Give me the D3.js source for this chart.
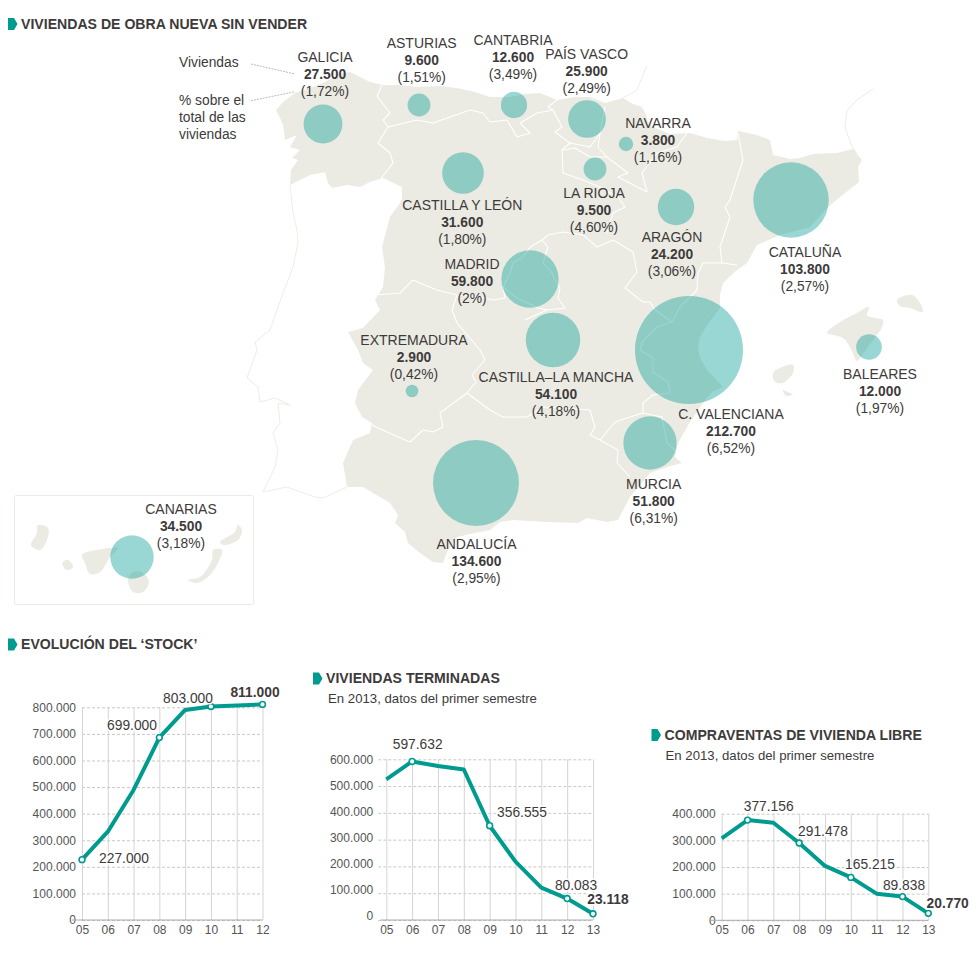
<!DOCTYPE html>
<html>
<head>
<meta charset="utf-8">
<script src="https://cdn.jsdelivr.net/npm/d3@7"></script>
<style>
  body { margin: 0; background: #fff; }
  text { font-family: "Liberation Sans", Arial, sans-serif; fill: #3e3a3b; }
  .tick text { fill: #555; font-size: 12px; }
</style>
</head>
<body>
<svg id="chart" width="980" height="958"></svg>
<script>
// values
const regionNames = ['GALICIA', 'ASTURIAS', 'CANTABRIA', 'PAÍS VASCO', 'NAVARRA', 'LA RIOJA', 'CASTILLA Y LEÓN', 'ARAGÓN', 'CATALUÑA', 'MADRID', 'EXTREMADURA', 'CASTILLA–LA MANCHA', 'C. VALENCIANA', 'BALEARES', 'MURCIA', 'ANDALUCÍA', 'CANARIAS'];
const regionHomes = [27500, 9600, 12600, 25900, 3800, 9500, 31600, 24200, 103800, 59800, 2900, 54100, 212700, 12000, 51800, 134600, 34500];
const regionShares = ['1,72%', '1,51%', '3,49%', '2,49%', '1,16%', '4,60%', '1,80%', '3,06%', '2,57%', '2%', '0,42%', '4,18%', '6,52%', '1,97%', '6,31%', '2,95%', '3,18%'];

const years8 = ['05', '06', '07', '08', '09', '10', '11', '12'];
const years9 = ['05', '06', '07', '08', '09', '10', '11', '12', '13'];

// line heights; where the drawn point sits off its printed label the drawn one is kept
const stockValues = [227000, 332000, 489000, 686000, 790000, 803000, 807000, 811000];
const stockMarked = ['05', '08', '10', '12'];
const stockTicks = [0, 100000, 200000, 300000, 400000, 500000, 600000, 700000, 800000];
const stockLabels = ['227.000', '699.000', '803.000', '811.000'];

const builtValues = [525000, 592000, 575000, 562000, 352000, 218000, 121000, 80083, 23118];
const builtMarked = ['06', '09', '12', '13'];
const builtTicks = [0, 100000, 200000, 300000, 400000, 500000, 600000];
const builtLabels = ['597.632', '356.555', '80.083', '23.118'];

const salesValues = [307000, 376000, 366000, 290000, 204000, 161000, 100000, 89000, 26000];
const salesMarked = ['06', '08', '10', '12', '13'];
const salesTicks = [0, 100000, 200000, 300000, 400000];
const salesLabels = ['377.156', '291.478', '165.215', '89.838', '20.770'];

// basemap, traced in page pixels
const mainland = [[295,93],[310,88],[325,82],[340,74],[350,72],[358,76],[370,82],[383,85],[400,85],[417,87],[440,86],[457,88],[475,92],[490,97],[510,97],[525,94],[540,93],[557,100],[575,97],[590,97],[605,103],[623,98],[633,104],[642,107],[646,115],[648,123],[655,128],[670,134],[690,133],[707,138],[725,141],[737,140],[738,131],[757,135],[770,140],[773,155],[790,159],[800,158],[813,154],[837,153],[853,149],[862,160],[858,167],[859,182],[840,197],[827,208],[810,227],[780,235],[757,245],[747,263],[737,270],[723,283],[720,295],[720,308],[707,325],[700,337],[698,347],[700,358],[707,370],[723,387],[712,392],[703,403],[690,422],[678,443],[675,457],[682,463],[667,467],[650,473],[630,497],[618,520],[607,522],[587,518],[578,523],[547,522],[513,520],[500,522],[490,530],[475,533],[457,537],[447,552],[443,563],[433,562],[420,553],[408,543],[405,532],[395,523],[398,515],[390,503],[380,497],[363,487],[347,487],[343,463],[353,440],[370,433],[372,423],[362,417],[355,403],[358,390],[373,370],[363,363],[358,350],[348,332],[363,328],[380,310],[375,300],[383,287],[385,267],[382,247],[390,217],[402,200],[402,187],[383,178],[370,182],[360,187],[347,185],[332,188],[328,183],[325,172],[310,175],[290,185],[291,170],[298,160],[292,158],[300,150],[290,147],[297,135],[285,140],[283,125],[280,118],[276,110],[283,102]];
const islands = [
  [[827,333],[840,322],[857,313],[869,307],[867,315],[875,318],[883,320],[882,327],[877,335],[867,348],[860,358],[857,361],[850,347],[843,338],[833,335]],
  [[897,300],[912,295],[920,303],[923,312],[910,308],[900,306]],
  [[773,373],[782,367],[793,365],[793,373],[787,380],[783,383],[775,382]],
  [[783,390],[790,393],[793,394],[786,396]],
  // Canarias
  [[38,525],[48,528],[47,540],[40,550],[31,545],[37,533]],
  [[62,563],[68,560],[73,567],[67,570]],
  [[82,555],[110,548],[118,548],[110,557],[100,572],[90,574],[85,563]],
  [[128,580],[133,572],[143,573],[149,582],[143,592],[133,592]],
  [[188,580],[200,577],[212,560],[213,550],[222,550],[218,563],[208,577],[197,583]],
  [[220,542],[235,532],[238,525],[242,530],[238,540],[223,545]]
];
const regionBorders = [
  // Galicia / Asturias / Castilla y León
  [[382,85],[377,96],[390,113],[383,120],[388,127],[378,143],[390,153],[393,163],[380,180],[383,185]],
  [[388,127],[417,120],[433,123],[470,110],[483,113],[490,122],[507,120],[517,137],[530,133],[520,123],[537,113],[553,110],[548,107],[557,100]],
  // País Vasco, La Rioja, Navarra
  [[553,110],[562,127],[555,132],[570,143],[590,147],[600,133],[605,107]],
  [[562,150],[575,148],[590,157],[607,157],[628,173],[618,177],[647,192],[642,173],[657,153],[677,147],[687,133]],
  [[570,143],[562,150],[563,173],[583,180],[600,187],[618,197],[625,207],[613,213],[607,233]],
  [[600,133],[598,147],[607,157]],
  // Castilla y León sur, Aragón
  [[530,247],[542,240],[548,235],[563,232],[583,235],[597,247],[613,240],[633,252],[637,272],[625,288],[643,302],[650,302],[655,310]],
  [[373,295],[400,293],[413,280],[437,290],[457,295],[480,297],[493,300],[505,298],[503,287],[510,273],[513,263],[523,257],[530,247]],
  // Madrid
  [[542,240],[548,247],[543,263],[552,273],[555,280],[560,288],[558,298],[565,308],[547,310],[525,320]],
  [[503,287],[517,298],[538,308],[547,310]],
  // Extremadura, Castilla-La Mancha, Andalucía
  [[457,295],[452,310],[457,323],[480,350],[485,360],[472,375],[476,382],[467,393]],
  [[372,425],[387,432],[410,442],[423,430],[433,432],[443,427],[440,413],[467,393],[490,410],[503,417],[527,417],[543,407],[590,410],[595,427],[590,435],[600,440],[618,450],[617,463],[630,477]],
  // Murcia, C. Valenciana
  [[600,440],[615,422],[630,417],[643,413],[643,403],[653,395],[670,393],[668,382],[653,372],[653,358],[640,350],[642,342],[657,327],[672,322],[680,307],[687,300],[697,290],[698,273],[703,263],[722,263],[737,265]],
  [[643,413],[662,417],[667,443],[675,450]],
  [[655,310],[672,322]],
  // Aragón / Cataluña
  [[738,133],[743,160],[730,200],[725,207],[730,217],[720,247],[722,263]],
  // Andorra
  [[773,143],[788,145],[788,152],[775,155]]
];
const neighbourLines = [
  // Portugal
  [[290,185],[293,213],[297,230],[298,243],[293,267],[287,283],[283,293],[277,310],[270,330],[255,342],[257,350],[247,378],[258,387],[260,402],[275,398],[290,405],[278,403],[280,423],[273,433],[278,450],[275,467],[263,492],[287,487],[315,497],[323,498],[347,487]],
  // Francia
  [[623,98],[637,90],[647,65]],
  [[873,89],[857,100],[847,110],[845,127],[852,147],[857,153]]
];

// where things sit on the page
const bubbleCentres = [[323,124],[419,105],[514,105],[587,119],[626,144],[595,169],[463,173],[676,207],[791,200],[530,279],[412,391],[553,340],[689,350],[869,347],[650,443],[476,483],[132,557]];
const labelAnchors = [[325,57],[421.7,43],[513,40],[586.7,54],[658,123],[594,192.7],[462.3,205],[672,237],[805,251.7],[472,264],[414,339.7],[556,377],[731,414],[880,373.7],[653.7,484],[476.5,544],[181,508.7]];

const ink = '#3e3a3b';
const teal = '#009b8f';
const land = '#ebebe3';

const svg = d3.select('#chart');
const mapLine = d3.line();
const islandLine = d3.line().curve(d3.curveCatmullRomClosed);
const esLocale = d3.formatLocale({ decimal: ',', thousands: '.', grouping: [3], currency: ['', ' €'] });
const esFormat = esLocale.format(',d');

function addText(parent, x, y, str, size, weight, anchor) {
  return parent.append('text')
    .attr('x', x)
    .attr('y', y)
    .attr('dy', '0.35em')
    .attr('text-anchor', anchor || 'start')
    .style('font-size', size + 'px')
    .style('font-weight', weight || 'normal')
    .text(str);
}

function addHeading(x, y, str) {
  svg.append('path')
    .attr('d', mapLine([[x, y - 6], [x + 6, y - 6], [x + 9.5, y], [x + 6, y + 6], [x, y + 6]]) + 'Z')
    .attr('fill', teal);
  addText(svg, x + 13, y, str, 14.1, 'bold');
}

// --- map ---
addHeading(8, 24, 'VIVIENDAS DE OBRA NUEVA SIN VENDER');

svg.append('rect')
  .attr('x', 14.5).attr('y', 495.5)
  .attr('width', 239).attr('height', 109)
  .attr('rx', 2)
  .attr('fill', 'none')
  .attr('stroke', land);

svg.append('g').selectAll('path')
  .data(neighbourLines)
  .join('path')
  .attr('d', mapLine)
  .attr('fill', 'none')
  .attr('stroke', land)
  .attr('stroke-width', 0.9);

svg.append('path')
  .attr('d', mapLine(mainland) + 'Z')
  .attr('fill', land);

svg.append('g').selectAll('path')
  .data(islands)
  .join('path')
  .attr('d', islandLine)
  .attr('fill', land);

svg.append('g').selectAll('path')
  .data(regionBorders)
  .join('path')
  .attr('d', mapLine)
  .attr('fill', 'none')
  .attr('stroke', '#fff')
  .attr('stroke-width', 1.1)
  .attr('stroke-linejoin', 'round');

const radius = d3.scaleSqrt().domain([0, d3.max(regionHomes)]).range([0, 54]);

svg.append('g').selectAll('circle')
  .data(regionHomes)
  .join('circle')
  .attr('cx', (d, i) => bubbleCentres[i][0])
  .attr('cy', (d, i) => bubbleCentres[i][1])
  .attr('r', d => radius(d))
  .attr('fill', '#009b93')
  .attr('fill-opacity', 0.4);

const mapLabels = svg.append('g');
regionNames.forEach((name, i) => {
  const [x, y] = labelAnchors[i];
  addText(mapLabels, x, y, name, 14, 'normal', 'middle');
  addText(mapLabels, x, y + 17.3, esFormat(regionHomes[i]), 13.8, 'bold', 'middle');
  addText(mapLabels, x, y + 34.6, '(' + regionShares[i] + ')', 13.8, 'normal', 'middle');
});

// how to read the labels
[['Viviendas', 61.7], ['% sobre el', 99.7], ['total de las', 116.7], ['viviendas', 133.7]].forEach(d => {
  addText(svg, 179, d[1], d[0], 13.8);
});
svg.append('g').selectAll('path')
  .data([[[251, 64], [295, 74]], [[251, 100.7], [295, 91.7]]])
  .join('path')
  .attr('d', mapLine)
  .attr('stroke', '#aaa')
  .attr('stroke-width', 0.8)
  .attr('stroke-dasharray', '2 1');

// --- trend charts ---
function drawTrend(cfg) {
  const x = d3.scalePoint().domain(cfg.years).range([cfg.left, cfg.right]);
  const y = d3.scaleLinear().domain([0, d3.max(cfg.ticks)]).range([cfg.bottom, cfg.top]);
  const g = svg.append('g');
  const lead = cfg.gridLead || 0;

  // horizontal grid and value ticks
  const yAxis = g.append('g')
    .attr('transform', `translate(${cfg.left - lead},0)`)
    .call(d3.axisLeft(y)
      .tickValues(cfg.ticks)
      .tickSize(-(cfg.right - cfg.left + lead))
      .tickPadding(cfg.labelPad)
      .tickFormat(esFormat));
  yAxis.select('.domain').remove();
  yAxis.selectAll('.tick line')
    .attr('stroke', '#c8c8c8')
    .attr('stroke-dasharray', '3 2');
  if (cfg.labelRange) {
    const labelY = d3.scaleLinear().domain(y.domain()).range(cfg.labelRange);
    yAxis.selectAll('.tick text').attr('y', d => labelY(d) - y(d));
  }

  // vertical grid and years
  const xAxis = g.append('g')
    .attr('transform', `translate(0,${cfg.bottom})`)
    .call(d3.axisBottom(x)
      .tickSize(-(cfg.bottom - cfg.top))
      .tickPadding(5));
  xAxis.select('.domain').remove();
  xAxis.selectAll('.tick line').attr('stroke', '#d4d4d4');

  g.append('line')
    .attr('x1', cfg.baseLeft).attr('x2', cfg.right)
    .attr('y1', cfg.bottom).attr('y2', cfg.bottom)
    .attr('stroke', '#aaa');

  const line = d3.line()
    .x((d, i) => x(cfg.years[i]))
    .y(d => y(d));
  g.append('path')
    .datum(cfg.values)
    .attr('d', line)
    .attr('fill', 'none')
    .attr('stroke', teal)
    .attr('stroke-width', 4)
    .attr('stroke-linejoin', 'round');

  g.selectAll('circle')
    .data(cfg.marked)
    .join('circle')
    .attr('cx', d => x(d))
    .attr('cy', d => y(cfg.values[cfg.years.indexOf(d)]))
    .attr('r', 2.9)
    .attr('fill', '#fff')
    .attr('stroke', teal)
    .attr('stroke-width', 1.6);

  cfg.labels.forEach((str, i) => {
    const last = i === cfg.labels.length - 1;
    addText(g, cfg.labelAt[i][0], cfg.labelAt[i][1], str, 13.8, last ? 'bold' : 'normal', 'middle')
      .attr('stroke', '#fff')
      .attr('stroke-width', 3)
      .style('paint-order', 'stroke');
  });
}

addHeading(8, 644.5, 'EVOLUCIÓN DEL ‘STOCK’');
addHeading(313, 678.5, 'VIVIENDAS TERMINADAS');
addText(svg, 328, 698, 'En 2013, datos del primer semestre', 13.2);
addHeading(651.5, 735, 'COMPRAVENTAS DE VIVIENDA LIBRE');
addText(svg, 665.5, 755, 'En 2013, datos del primer semestre', 13.2);

drawTrend({
  years: years8, values: stockValues, marked: stockMarked, ticks: stockTicks,
  labels: stockLabels, labelAt: [[124, 857.7], [132, 725], [188, 697.7], [255, 691.7]],
  left: 82, right: 262.5, top: 707.3, bottom: 920, labelPad: 6, baseLeft: 72
});
drawTrend({
  years: years9, values: builtValues, marked: builtMarked, ticks: builtTicks,
  labels: builtLabels, labelAt: [[417.7, 744], [522, 811.7], [576, 885], [608, 899]],
  left: 386.3, right: 593, top: 759.3, bottom: 920, gridLead: 8, labelPad: 5, baseLeft: 380.7,
  labelRange: [916, 760]
});
drawTrend({
  years: years9, values: salesValues, marked: salesMarked, ticks: salesTicks,
  labels: salesLabels, labelAt: [[768.7, 806], [823, 831], [870, 864], [904, 885], [947.7, 903.3]],
  left: 721.7, right: 928.3, top: 813.7, bottom: 920.3, labelPad: 6, baseLeft: 710
});
</script>
</body>
</html>
